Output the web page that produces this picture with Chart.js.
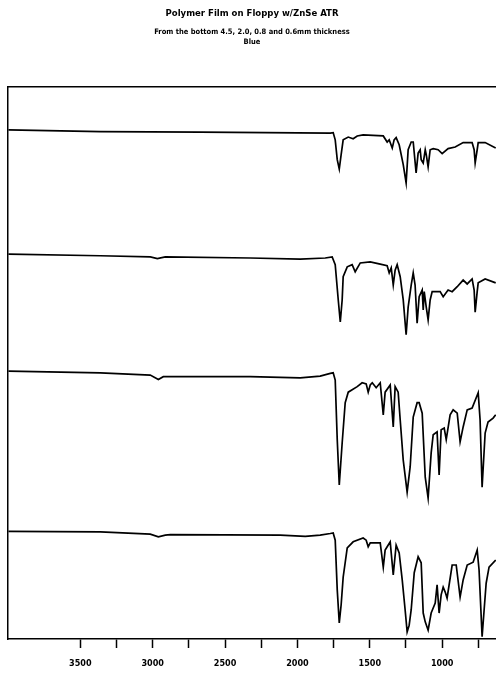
<!DOCTYPE html>
<html>
<head>
<meta charset="utf-8">
<script src="https://cdn.jsdelivr.net/npm/chart.js@4/dist/chart.umd.min.js"></script>
<style>
  html, body { margin: 0; padding: 0; background: #fff; }
  #spectra { display: block; }
</style>
</head>
<body>
<canvas id="spectra" width="496" height="675"></canvas>
<script>
// Tick marks along the wavenumber axis (cm-1)
const tickValues = [3500, 3250, 3000, 2750, 2500, 2250, 2000, 1750, 1500, 1250, 1000, 750];

// Top trace - 0.6mm
const wn06 = [3997, 3362, 2671, 1773, 1753, 1739, 1725, 1711, 1698, 1684, 1649, 1615, 1587, 1546, 1477, 1407, 1380, 1366, 1345, 1332, 1318, 1297, 1269, 1249, 1235, 1214, 1200, 1180, 1166, 1152, 1145, 1131, 1117, 1110, 1097, 1083, 1062, 1028, 1000, 959, 910, 855, 793, 779, 772, 758, 751, 703, 630];
const t06 = [92.2, 91.9, 91.8, 91.6, 91.7, 90.4, 86.8, 85.1, 87.7, 90.4, 90.9, 90.6, 91.1, 91.3, 91.2, 91.1, 90.0, 90.4, 88.9, 90.4, 90.8, 89.5, 85.9, 82.6, 88.6, 90.0, 90.0, 84.4, 88.0, 88.6, 86.8, 86.2, 88.6, 87.7, 85.5, 88.6, 88.8, 88.6, 87.9, 88.8, 89.1, 89.9, 89.9, 88.6, 86.2, 88.6, 89.9, 89.9, 88.9];

// Second trace - 0.8mm
const wn08 = [3997, 3362, 3017, 2968, 2913, 2326, 1981, 1808, 1760, 1739, 1718, 1704, 1691, 1684, 1656, 1622, 1601, 1566, 1497, 1428, 1380, 1366, 1352, 1338, 1325, 1311, 1290, 1269, 1249, 1235, 1214, 1200, 1187, 1173, 1159, 1138, 1131, 1124, 1110, 1097, 1083, 1069, 1014, 993, 959, 931, 896, 855, 827, 793, 779, 772, 758, 751, 703, 630];
const t08 = [69.7, 69.4, 69.2, 68.9, 69.2, 69.0, 68.8, 69.0, 69.2, 67.8, 61.4, 57.4, 61.4, 65.6, 67.4, 67.8, 66.5, 68.1, 68.3, 67.9, 67.6, 66.3, 67.2, 64.1, 66.8, 67.8, 65.6, 61.4, 55.1, 60.1, 64.1, 66.3, 64.1, 57.2, 62.0, 63.2, 59.6, 62.9, 60.1, 57.8, 61.4, 62.9, 62.9, 62.0, 63.2, 62.9, 63.8, 65.0, 64.3, 65.2, 63.2, 59.2, 62.9, 64.5, 65.2, 64.5];

// Third trace - 2.0mm
const wn20 = [3997, 3362, 3017, 2961, 2927, 2878, 2326, 1981, 1843, 1773, 1753, 1739, 1725, 1711, 1691, 1670, 1649, 1587, 1553, 1525, 1511, 1497, 1483, 1456, 1428, 1407, 1394, 1359, 1338, 1325, 1304, 1290, 1269, 1242, 1221, 1200, 1173, 1159, 1138, 1117, 1097, 1076, 1062, 1035, 1021, 1007, 986, 972, 945, 924, 896, 876, 855, 827, 793, 751, 738, 724, 703, 683, 648, 630];
const t20 = [48.5, 48.2, 47.8, 47.0, 47.5, 47.5, 47.5, 47.3, 47.6, 48.1, 48.2, 46.9, 36.1, 27.9, 35.5, 42.8, 44.7, 45.7, 46.4, 46.2, 44.7, 46.0, 46.4, 45.5, 46.4, 40.6, 44.7, 46.0, 38.4, 45.7, 44.7, 39.7, 32.4, 26.6, 31.2, 40.2, 42.8, 42.8, 40.9, 29.3, 25.5, 33.7, 37.0, 37.5, 29.7, 37.9, 38.2, 36.1, 40.6, 41.5, 40.9, 35.7, 38.4, 41.5, 41.8, 44.6, 39.7, 27.5, 37.3, 39.3, 40.0, 40.6];

// Bottom trace - 4.5mm
const wn45 = [3997, 3362, 3017, 2961, 2913, 2878, 2119, 1946, 1843, 1773, 1753, 1739, 1725, 1711, 1698, 1684, 1656, 1615, 1546, 1525, 1511, 1497, 1477, 1428, 1407, 1394, 1380, 1359, 1338, 1318, 1297, 1276, 1256, 1242, 1228, 1214, 1193, 1166, 1145, 1131, 1117, 1097, 1076, 1048, 1035, 1021, 1007, 993, 979, 966, 931, 903, 876, 855, 827, 786, 758, 745, 724, 710, 696, 676, 630];
const t45 = [19.5, 19.4, 19.0, 18.5, 18.8, 18.9, 18.8, 18.6, 18.8, 19.1, 19.2, 17.9, 8.9, 2.9, 6.2, 11.2, 16.5, 17.6, 18.3, 17.9, 16.7, 17.4, 17.4, 17.4, 13.0, 16.1, 16.7, 17.6, 11.6, 17.0, 15.6, 10.7, 5.3, 1.3, 2.5, 5.3, 12.0, 14.9, 13.8, 4.7, 3.1, 1.6, 4.7, 6.5, 9.8, 4.7, 8.0, 9.4, 8.5, 7.4, 13.4, 13.4, 7.6, 10.7, 13.4, 13.9, 16.1, 12.5, 0.4, 5.3, 10.1, 13.0, 14.3];

const toPoints = (xs, ys) => xs.map((x, i) => ({ x: x, y: ys[i] }));

const traceStyle = {
  borderColor: '#000',
  borderWidth: 1.7,
  pointRadius: 0,
  tension: 0,
  fill: false,
};

const plotFont = '"DejaVu Sans Condensed", "Liberation Sans", sans-serif';

new Chart(document.getElementById('spectra'), {
  type: 'line',
  data: {
    datasets: [
      { label: '0.6mm', data: toPoints(wn06, t06), ...traceStyle },
      { label: '0.8mm', data: toPoints(wn08, t08), ...traceStyle },
      { label: '2.0mm', data: toPoints(wn20, t20), ...traceStyle },
      { label: '4.5mm', data: toPoints(wn45, t45), ...traceStyle },
    ],
  },
  options: {
    responsive: false,
    animation: false,
    devicePixelRatio: 1,
    layout: { padding: { left: 8, right: 0, top: 0, bottom: 0 } },
    plugins: {
      legend: { display: false },
      tooltip: { enabled: false },
      title: {
        display: true,
        text: 'Polymer Film on Floppy w/ZnSe ATR',
        color: '#000',
        font: { family: plotFont, size: 9.5, weight: 'bold', lineHeight: 1.2 },
        padding: { top: 8.3, bottom: 7.6 },
      },
      subtitle: {
        display: true,
        text: ['From the bottom 4.5, 2.0, 0.8 and 0.6mm thickness', 'Blue'],
        color: '#000',
        font: { family: plotFont, size: 7.5, weight: 'bold', lineHeight: 1.3 },
        padding: { top: 0, bottom: 40 },
      },
    },
    scales: {
      x: {
        type: 'linear',
        position: 'bottom',
        reverse: true,
        min: 628,
        max: 4000,
        afterBuildTicks: (scale) => {
          scale.ticks = tickValues.map((v) => ({ value: v }));
        },
        afterFit: (scale) => { scale.height = 36; },
        ticks: {
          color: '#000',
          autoSkip: false,
          maxRotation: 0,
          padding: 10,
          font: { family: plotFont, size: 9, weight: 'bold' },
          callback: (v) => (v % 500 === 0 ? String(v) : ''),
        },
        grid: {
          drawOnChartArea: false,
          drawTicks: true,
          tickLength: 9,
          tickWidth: 1.5,
          color: '#000',
        },
        border: { display: true, color: '#000', width: 1.5 },
      },
      xTop: {
        type: 'linear',
        position: 'top',
        display: true,
        min: 628,
        max: 4000,
        afterFit: (scale) => { scale.height = 0; },
        ticks: { display: false },
        grid: { display: false },
        border: { display: true, color: '#000', width: 1.5 },
      },
      y: {
        min: 0,
        max: 100,
        afterFit: (scale) => { scale.width = 0; },
        ticks: { display: false },
        grid: { display: false },
        border: { display: true, color: '#000', width: 1.5 },
      },
    },
  },
});
</script>
</body>
</html>
